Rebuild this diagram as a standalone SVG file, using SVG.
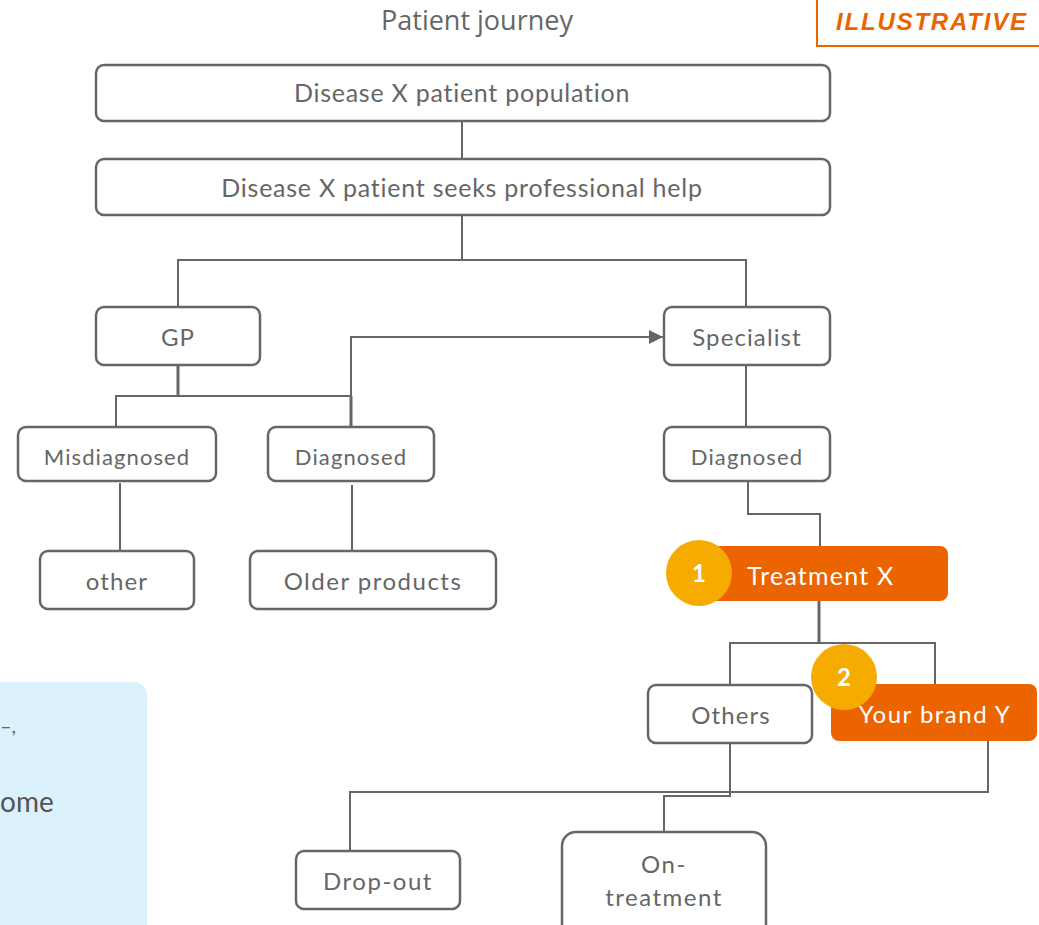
<svg xmlns="http://www.w3.org/2000/svg" width="1039" height="925" viewBox="0 0 1039 925">
  <defs>
    <marker id="arrow" viewBox="0 0 10 10" refX="10" refY="5" markerWidth="14" markerHeight="14" markerUnits="userSpaceOnUse" orient="auto">
      <path d="M0,0 L10,5 L0,10 z" fill="#666666"/>
    </marker>
    <style>
      .box { fill: #ffffff; stroke: #666666; stroke-width: 2.5; }
      .hl { fill: #eb6400; }
      .badge { fill: #f5ab00; }
      .lbl { font-family: Lato, "Open Sans", "Liberation Sans", sans-serif; fill: #666666; text-anchor: middle; letter-spacing: 1.1px; }
      .lbl.wide { letter-spacing: 1.5px; }
      .lbl.tight { letter-spacing: 0.75px; }
      .wlbl { font-family: Lato, "Open Sans", "Liberation Sans", sans-serif; fill: #ffffff; }
      .num { font-family: Lato, "Liberation Sans", sans-serif; font-weight: bold; fill: #ffffff; text-anchor: middle; font-size: 24px; }
      .wire { fill: none; stroke: #666666; stroke-width: 2; }
      .thick { stroke-width: 3; }
    </style>
  </defs>

  <rect width="1039" height="925" fill="#ffffff"/>

  <!-- side note panel, cut at the left edge -->
  <g id="note">
    <path d="M0,682 H133 A14,14 0 0 1 147,696 V925 H0 z" fill="#dbf1fc"/>
    <text x="0" y="733" font-family="Lato, 'Liberation Sans', sans-serif" font-size="20" fill="#666666">–,</text>
    <text x="0" y="812" font-family="Lato, 'Liberation Sans', sans-serif" font-size="28" fill="#555555">ome</text>
  </g>

  <!-- header -->
  <g id="title">
    <text x="477" y="30" font-family="'Open Sans', 'Noto Sans', sans-serif" font-size="27" fill="#666666" text-anchor="middle">Patient journey</text>
  </g>
  <g id="tag">
    <path d="M1040,46 H817 V-2" fill="none" stroke="#eb6400" stroke-width="2"/>
    <text x="932" y="30" font-family="'Liberation Sans', Arial, sans-serif" font-size="24" font-weight="bold" font-style="italic" fill="#eb6400" text-anchor="middle" letter-spacing="1.8">ILLUSTRATIVE</text>
  </g>

  <!-- connectors -->
  <g id="connectors">
    <path class="wire" d="M462,121 V159"/>
    <path class="wire" d="M462,215 V260 M178,307 V260 H746 V307"/>
    <path class="wire thick" d="M178,365 V396"/>
    <path class="wire" d="M116,427 V396 H351"/>
    <path class="wire thick" d="M351,396 V427"/>
    <path class="wire" d="M351,396 V337 H663" marker-end="url(#arrow)"/>
    <path class="wire" d="M746,365 V427"/>
    <path class="wire" d="M120,483 V555"/>
    <path class="wire" d="M352,485 V557"/>
    <path class="wire" d="M748,481 V514 H820 V547"/>
    <path class="wire thick" d="M819,601 V643"/>
    <path class="wire" d="M730,685 V643 H935 V685"/>
    <path class="wire" d="M730,743 V796 H664 V848"/>
    <path class="wire" d="M350,852 V792 H988 V733"/>
  </g>

  <!-- nodes -->
  <g id="population">
    <rect class="box" x="96" y="65" width="734" height="56" rx="8"/>
    <text class="lbl tight" x="462" y="102" font-size="25">Disease X patient population</text>
  </g>
  <g id="seeks-help">
    <rect class="box" x="96" y="159" width="734" height="56" rx="8"/>
    <text class="lbl tight" x="462" y="197" font-size="25">Disease X patient seeks professional help</text>
  </g>
  <g id="gp">
    <rect class="box" x="96" y="307" width="164" height="58" rx="8"/>
    <text class="lbl" x="178" y="346" font-size="24">GP</text>
  </g>
  <g id="specialist">
    <rect class="box" x="664" y="307" width="166" height="58" rx="8"/>
    <text class="lbl" x="747" y="346" font-size="24">Specialist</text>
  </g>
  <g id="misdiagnosed">
    <rect class="box" x="18" y="427" width="198" height="54" rx="8"/>
    <text class="lbl" x="117" y="465" font-size="22">Misdiagnosed</text>
  </g>
  <g id="gp-diagnosed">
    <rect class="box" x="268" y="427" width="166" height="54" rx="8"/>
    <text class="lbl" x="351" y="465" font-size="22">Diagnosed</text>
  </g>
  <g id="sp-diagnosed">
    <rect class="box" x="664" y="427" width="166" height="54" rx="8"/>
    <text class="lbl" x="747" y="465" font-size="22">Diagnosed</text>
  </g>
  <g id="other">
    <rect class="box" x="40" y="551" width="154" height="58" rx="8"/>
    <text class="lbl" x="117" y="590" font-size="24">other</text>
  </g>
  <g id="older-products">
    <rect class="box" x="250" y="551" width="246" height="58" rx="8"/>
    <text class="lbl wide" x="373" y="590" font-size="24">Older products</text>
  </g>
  <g id="treatment-x">
    <rect class="hl" x="705" y="546" width="243" height="55" rx="8"/>
    <circle class="badge" cx="699" cy="573" r="33"/>
    <text class="num" x="699" y="582">1</text>
    <text class="wlbl" x="747" y="585" font-size="25" letter-spacing="1.2">Treatment X</text>
  </g>
  <g id="others">
    <rect class="box" x="648" y="685" width="164" height="58" rx="8"/>
    <text class="lbl" x="731" y="724" font-size="24">Others</text>
  </g>
  <g id="brand-y">
    <rect class="hl" x="831" y="684" width="206" height="57" rx="8"/>
    <circle class="badge" cx="844" cy="677" r="33"/>
    <text class="num" x="844" y="686">2</text>
    <text class="wlbl" x="935" y="723" font-size="24" text-anchor="middle" letter-spacing="1.5">Your brand Y</text>
  </g>
  <g id="drop-out">
    <rect class="box" x="296" y="851" width="164" height="58" rx="8"/>
    <text class="lbl wide" x="378" y="890" font-size="24">Drop-out</text>
  </g>
  <g id="on-treatment">
    <rect class="box" x="562" y="832" width="204" height="110" rx="14"/>
    <text class="lbl wide" x="664" y="873" font-size="24">On-</text>
    <text class="lbl wide" x="664" y="906" font-size="24">treatment</text>
  </g>
</svg>
